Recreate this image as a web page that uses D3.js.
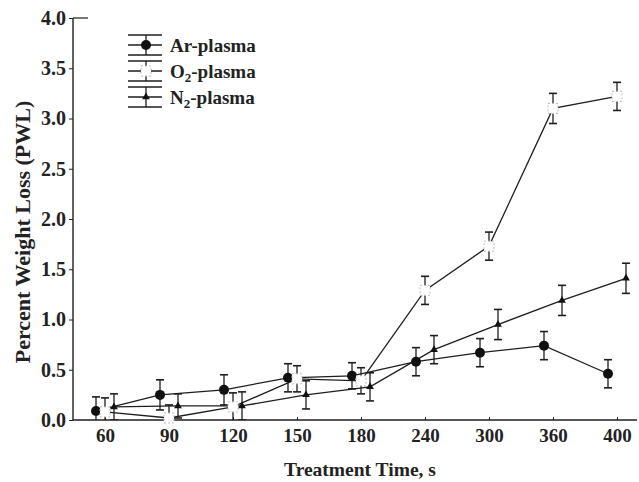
<!DOCTYPE html>
<html>
<head>
<meta charset="utf-8">
<script src="https://cdn.jsdelivr.net/npm/d3@7"></script>
<style>
  body { margin: 0; background: #fff; }
  text { font-family: "Liberation Serif", "Times New Roman", serif; font-weight: bold; fill: #222; }
</style>
</head>
<body>
<svg width="639" height="482"></svg>
<script>
// data
const times = ["60", "90", "120", "150", "180", "240", "300", "360", "400"];
const yTicks = [0, 0.5, 1, 1.5, 2, 2.5, 3, 3.5, 4];

const arPWL = [0.09, 0.25, 0.30, 0.42, 0.44, 0.58, 0.67, 0.74, 0.46];
const arErr = [0.14, 0.15, 0.15, 0.14, 0.13, 0.14, 0.14, 0.14, 0.14];
const o2PWL = [0.08, 0.02, 0.13, 0.41, 0.39, 1.29, 1.73, 3.10, 3.22];
const o2Err = [0.14, 0.13, 0.14, 0.13, 0.13, 0.14, 0.14, 0.15, 0.14];
const n2PWL = [0.13, 0.14, 0.14, 0.25, 0.33, 0.70, 0.95, 1.19, 1.41];
const n2Err = [0.13, 0.12, 0.14, 0.14, 0.14, 0.14, 0.15, 0.15, 0.15];

const seriesNames = ["Ar", "O", "N"];

const ink = "#1e1e1e";
const svg = d3.select("svg");

const x = d3.scalePoint().domain(times).range([105, 617]);
const y = d3.scaleLinear().domain([0, 4]).range([420, 18]);
const left = 73, right = 637;

const series = [
  { name: seriesNames[0], sub: "", vals: arPWL, err: arErr, dx: -9, mark: "circle" },
  { name: seriesNames[1], sub: "2", vals: o2PWL, err: o2Err, dx: 0, mark: "square" },
  { name: seriesNames[2], sub: "2", vals: n2PWL, err: n2Err, dx: 9, mark: "triangle" }
];

svg.append("clipPath").attr("id", "plot")
  .append("rect").attr("x", left).attr("y", 0).attr("width", right - left).attr("height", y(0));

// axes
const xAxis = svg.append("g")
  .attr("transform", `translate(0,${y(0)})`)
  .call(d3.axisBottom(x).tickSize(-3).tickPadding(9));
xAxis.select(".domain").remove();
xAxis.append("line").attr("x1", left).attr("x2", right).attr("stroke", ink).attr("stroke-width", 1.4);
xAxis.selectAll(".tick line").attr("stroke", ink);
xAxis.selectAll(".tick text").style("font-size", "19px").attr("fill", ink);

const yAxis = svg.append("g")
  .attr("transform", `translate(${left},0)`)
  .call(d3.axisLeft(y).tickValues(yTicks).tickFormat(d3.format(".1f")).tickSize(4).tickPadding(3));
yAxis.select(".domain").remove();
yAxis.append("line").attr("y1", y(0)).attr("y2", y(4)).attr("stroke", ink).attr("stroke-width", 1.4);
yAxis.append("line").attr("x1", 0).attr("x2", 15).attr("y1", y(4)).attr("y2", y(4)).attr("stroke", ink).attr("stroke-width", 1.2);
yAxis.selectAll(".tick line").attr("stroke", ink);
yAxis.selectAll(".tick text").style("font-size", "20px").attr("fill", ink);

svg.append("text")
  .attr("x", 360).attr("y", 476)
  .attr("text-anchor", "middle")
  .style("font-size", "19.5px")
  .text("Treatment Time, s");

svg.append("text")
  .attr("transform", "translate(30,232) rotate(-90)")
  .attr("text-anchor", "middle")
  .style("font-size", "22px")
  .text("Percent Weight Loss (PWL)");

function drawMark(g, type) {
  if (type === "circle") {
    g.append("circle").attr("r", 5).attr("fill", "#111");
  } else if (type === "square") {
    g.append("rect").attr("x", -5).attr("y", -5).attr("width", 10).attr("height", 10)
      .attr("fill", "#fff").attr("stroke", "#bbb").attr("stroke-width", 1).attr("stroke-dasharray", "2,2");
  } else {
    g.append("path").attr("d", d3.symbol(d3.symbolTriangle, 26)()).attr("fill", "#111");
  }
}

const plot = svg.append("g");
const lineGen = d3.line();

series.forEach(s => {
  const pts = s.vals.map((v, i) => [x(times[i]) + s.dx, y(v)]);
  plot.append("path")
    .attr("d", lineGen(pts))
    .attr("fill", "none").attr("stroke", ink).attr("stroke-width", 1.3);
});

series.forEach(s => {
  const eb = plot.append("g").attr("clip-path", "url(#plot)")
    .selectAll("g").data(s.vals).join("g")
    .attr("transform", (v, i) => `translate(${x(times[i]) + s.dx},0)`);
  eb.append("line")
    .attr("y1", (v, i) => y(v + s.err[i])).attr("y2", (v, i) => y(v - s.err[i]))
    .attr("stroke", ink).attr("stroke-width", 1.3);
  [1, -1].forEach(sg => {
    eb.append("line")
      .attr("x1", -4).attr("x2", 4)
      .attr("y1", (v, i) => y(v + sg * s.err[i])).attr("y2", (v, i) => y(v + sg * s.err[i]))
      .attr("stroke", ink).attr("stroke-width", 1.6);
  });
});

series.forEach(s => {
  s.vals.forEach((v, i) => {
    const g = plot.append("g").attr("transform", `translate(${x(times[i]) + s.dx},${y(v)})`);
    drawMark(g, s.mark);
  });
});

// legend
const legend = svg.append("g");
series.forEach((s, k) => {
  const cy = 45 + k * 26;
  const g = legend.append("g").attr("transform", `translate(0,${cy})`);
  [-10, 0, 10].forEach(o => {
    g.append("line").attr("x1", 128).attr("x2", 162).attr("y1", o).attr("y2", o)
      .attr("stroke", ink).attr("stroke-width", 1.3);
  });
  g.append("line").attr("x1", 146).attr("x2", 146).attr("y1", -10).attr("y2", 10)
    .attr("stroke", ink).attr("stroke-width", 1.3);
  const m = g.append("g").attr("transform", "translate(146,0)");
  drawMark(m, s.mark);
  const t = g.append("text").attr("x", 170).attr("y", 7).style("font-size", "19px");
  t.append("tspan").text(s.name);
  if (s.sub) t.append("tspan").attr("dy", 4).style("font-size", "13px").text(s.sub);
  t.append("tspan").attr("dy", s.sub ? -4 : 0).text("-plasma");
});
</script>
</body>
</html>
